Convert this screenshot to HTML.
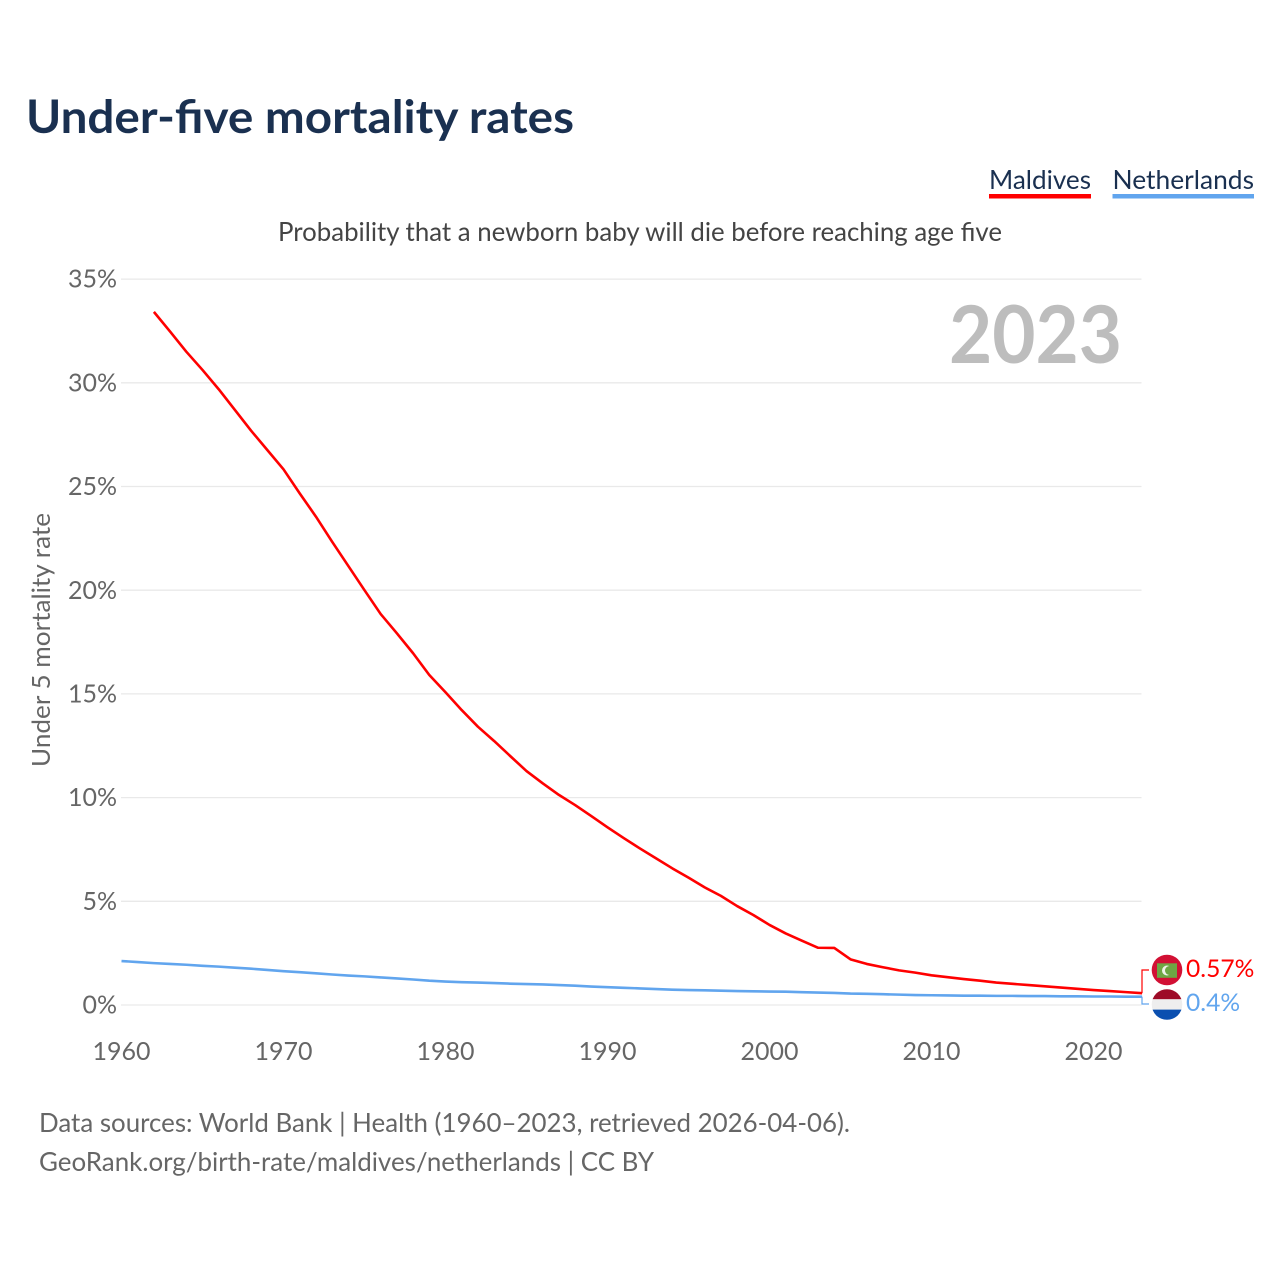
<!DOCTYPE html>
<html lang="en">
<head>
<meta charset="utf-8">
<title>Under-five mortality rates</title>
<style>
html,body{margin:0;padding:0;background:#fff;width:1280px;height:1280px;overflow:hidden}
svg{display:block}
text{font-family:"Lato","Carlito","Liberation Sans",sans-serif}
</style>
</head>
<body>
<svg id="chart" xmlns="http://www.w3.org/2000/svg" width="1280" height="1280" viewBox="0 0 1280 1280">
  <rect width="1280" height="1280" fill="#fff"/>
  <text x="26" y="133" font-size="46" font-weight="700" fill="#1a3050" textLength="548" lengthAdjust="spacingAndGlyphs">Under-five mortality rates</text>
  <g>
    <g>
      <text x="989" y="189" font-size="26" fill="#1a3050" textLength="102" lengthAdjust="spacingAndGlyphs">Maldives</text>
      <rect x="989" y="194" width="102" height="4.5" fill="#ff0000"/>
    </g>
    <g>
      <text x="1112.5" y="189" font-size="26" fill="#1a3050" textLength="141.5" lengthAdjust="spacingAndGlyphs">Netherlands</text>
      <rect x="1112.5" y="194" width="141.5" height="4.5" fill="#61a5ee"/>
    </g>
  </g>
  <text x="278" y="241" font-size="26" fill="#444" textLength="724" lengthAdjust="spacingAndGlyphs">Probability that a newborn baby will die before reaching age five</text>
  <g id="grid"></g>
  <g id="yticks"></g>
  <g id="xticks"></g>
  <text transform="translate(50,640) rotate(-90)" text-anchor="middle" font-size="25" fill="#666" textLength="254" lengthAdjust="spacingAndGlyphs">Under 5 mortality rate</text>
  <text x="949" y="363" font-size="80" font-weight="700" fill="#bdbdbd" textLength="173" lengthAdjust="spacingAndGlyphs">2023</text>
  <g id="series"></g>
  <g id="endmarks"></g>
  <g>
    <circle cx="1167" cy="970" r="15.3" fill="#d21034"/>
    <rect x="1157" y="963.3" width="20" height="14.5" fill="#6ea644"/>
    <circle cx="1167" cy="970.5" r="5" fill="#eef2e8"/>
    <circle cx="1169.5" cy="970.5" r="4.5" fill="#6ea644"/>
  </g>
  <g>
    <clipPath id="nlclip"><circle cx="1167" cy="1004.5" r="15.3"/></clipPath>
    <g clip-path="url(#nlclip)">
      <rect x="1150" y="989" width="34" height="10.3" fill="#9e0b28"/>
      <rect x="1150" y="999.3" width="34" height="10.3" fill="#eeeeee"/>
      <rect x="1150" y="1009.6" width="34" height="10.4" fill="#0a4fb0"/>
    </g>
  </g>
  <g>
    <text x="39" y="1132" font-size="26" fill="#666" textLength="811" lengthAdjust="spacingAndGlyphs">Data sources: World Bank | Health (1960–2023, retrieved 2026-04-06).</text>
    <text x="39" y="1171" font-size="26" fill="#666" textLength="615" lengthAdjust="spacingAndGlyphs">GeoRank.org/birth-rate/maldives/netherlands | CC BY</text>
  </g>
</svg>
<script>
const yTickValues = [0, 5, 10, 15, 20, 25, 30, 35];
const xTickYears = [1960, 1970, 1980, 1990, 2000, 2010, 2020];
const maldivesYears = [1962,1963,1964,1965,1966,1967,1968,1969,1970,1971,1972,1973,1974,1975,1976,1977,1978,1979,1980,1981,1982,1983,1984,1985,1986,1987,1988,1989,1990,1991,1992,1993,1994,1995,1996,1997,1998,1999,2000,2001,2002,2003,2004,2005,2006,2007,2008,2009,2010,2011,2012,2013,2014,2015,2016,2017,2018,2019,2020,2021,2022,2023];
const maldivesValues = [33.42,32.47,31.5,30.62,29.69,28.69,27.69,26.76,25.83,24.67,23.55,22.34,21.17,20.0,18.85,17.92,16.96,15.91,15.08,14.22,13.42,12.73,12.0,11.28,10.69,10.13,9.64,9.11,8.57,8.05,7.55,7.07,6.59,6.14,5.67,5.26,4.77,4.34,3.86,3.45,3.1,2.76,2.75,2.2,1.98,1.82,1.67,1.56,1.43,1.34,1.25,1.17,1.08,1.02,0.96,0.9,0.84,0.78,0.72,0.67,0.62,0.57];
const netherlandsYears = [1960,1961,1962,1963,1964,1965,1966,1967,1968,1969,1970,1971,1972,1973,1974,1975,1976,1977,1978,1979,1980,1981,1982,1983,1984,1985,1986,1987,1988,1989,1990,1991,1992,1993,1994,1995,1996,1997,1998,1999,2000,2001,2002,2003,2004,2005,2006,2007,2008,2009,2010,2011,2012,2013,2014,2015,2016,2017,2018,2019,2020,2021,2022,2023];
const netherlandsValues = [2.12,2.07,2.02,1.98,1.94,1.89,1.85,1.8,1.75,1.69,1.63,1.58,1.53,1.47,1.42,1.38,1.33,1.28,1.23,1.17,1.13,1.1,1.08,1.06,1.03,1.01,0.99,0.96,0.93,0.89,0.86,0.83,0.8,0.77,0.74,0.72,0.71,0.69,0.67,0.66,0.65,0.64,0.62,0.6,0.58,0.55,0.54,0.52,0.5,0.48,0.47,0.46,0.45,0.45,0.44,0.44,0.43,0.43,0.42,0.42,0.41,0.41,0.4,0.4];
const maldivesLabel = "0.57%";
const netherlandsLabel = "0.4%";

const SVGNS = "http://www.w3.org/2000/svg";
const xOf = function (year) { return 121.5 + (year - 1960) * 16.2; };
const yOf = function (value) { return 1005 - value * 20.74; };
const make = function (tag, parent, attrs, content) {
  const el = document.createElementNS(SVGNS, tag);
  Object.keys(attrs).forEach(function (k) { el.setAttribute(k, attrs[k]); });
  if (content !== undefined) el.textContent = content;
  parent.appendChild(el);
  return el;
};

const gridG = document.getElementById("grid");
const yG = document.getElementById("yticks");
yTickValues.forEach(function (v) {
  const line = make("line", gridG, { x1: 121, x2: 1141.5, y1: yOf(v), y2: yOf(v), stroke: "#e9e9e9", "stroke-width": 1.3 });
  
  
  const t = make("text", yG, { x: 117, y: yOf(v) + 8.6, "text-anchor": "end", "font-size": 25, fill: "#666" }, v + "%");
  
  
});

const xG = document.getElementById("xticks");
xTickYears.forEach(function (year) {
  const t = make("text", xG, { x: xOf(year), y: 1060, "text-anchor": "middle", "font-size": 25, fill: "#666" }, String(year));
  
  
});

const pathFor = function (years, values) {
  return years.map(function (year, i) {
    return (i ? "L" : "M") + xOf(year).toFixed(2) + " " + yOf(values[i]).toFixed(2);
  }).join(" ");
};

const seriesG = document.getElementById("series");
const nlLine = make("path", seriesG, { d: pathFor(netherlandsYears, netherlandsValues), fill: "none", stroke: "#61a5ee", "stroke-width": 2.6, "stroke-linejoin": "round" });


const mvLine = make("path", seriesG, { d: pathFor(maldivesYears, maldivesValues), fill: "none", stroke: "#ff0000", "stroke-width": 2.6, "stroke-linejoin": "round" });



const endG = document.getElementById("endmarks");
const mvEnd = yOf(maldivesValues[maldivesValues.length - 1]);
const nlEnd = yOf(netherlandsValues[netherlandsValues.length - 1]);
const mvConn = make("path", endG, { d: "M1142 " + mvEnd.toFixed(2) + " V970 H1149", fill: "none", stroke: "#ff0000", "stroke-width": 1.2 });


const nlConn = make("path", endG, { d: "M1142 " + nlEnd.toFixed(2) + " V1004 H1149", fill: "none", stroke: "#61a5ee", "stroke-width": 1.2 });


const mvText = make("text", endG, { x: 1186, y: 977, "font-size": 24.6, fill: "#ff0000" }, maldivesLabel);


const nlText = make("text", endG, { x: 1186, y: 1011, "font-size": 24.6, fill: "#61a5ee" }, netherlandsLabel);


</script>
</body>
</html>
